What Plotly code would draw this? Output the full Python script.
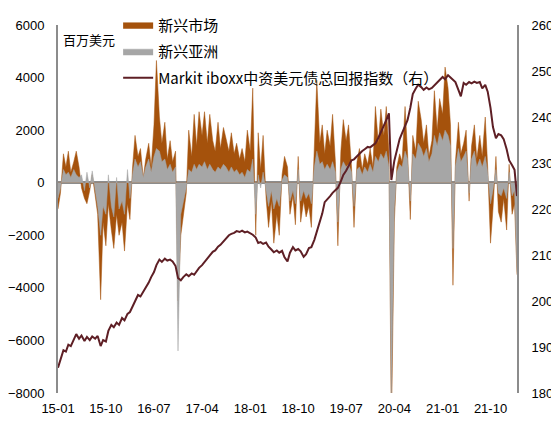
import pandas as pd
import plotly.graph_objects as go

# semi-monthly observations, 2015-01 .. 2022-03
dates = pd.date_range("2015-01-01", periods=173, freq="SMS")

# 新兴市场 fund flows, USD mn
em_flow = [
    -1000, -400, 1100, 600, 1200, 400, 800, 1200, 600, -200,
    -600, -800, -300, 300, -500, -1200, -4450, -1500, -2400, -800,
    -1800, -2500, -1200, -2000, -1500, -2600, -800, -1400, 600, 1800,
    1000, 1300, 200, 900, 1500, 600, 2200, 4650, 2500, 1500,
    2300, 900, 1600, 800, 1200, -4500, -2000, -1300, -400, 2000,
    1000, 2600, 1400, 2700, 1800, 2700, 1500, 2600, 1600, 1200,
    2300, 1300, 2100, 1700, 1200, 1900, 1100, 1500, 900, 1300,
    800, 2000, 1200, 3600, -2000, 1900, 500, 1800, -600, -1700,
    -700, -2300, -1200, -2000, 300, 1000, 600, -1200, -500, -1600,
    1000, -1500, -700, -1300, -900, -1700, 1400, 3900, 1500, 2200,
    1100, 2000, 1400, 2600, 800, -2400, 1200, 2400, 1600, 2200,
    600, -1700, 800, 1300, 500, 1100, 700, 1300, 600, 2900,
    1500, 2800, 1800, 2900, 1200, -9500, -1500, 600, 1100, 800,
    2900, 1200, -1400, 1800, 1200, 3100, 2400, 1500, 2200, 1000,
    1600, 3500, 2000, 3200, 2600, 4400, 3600, 2200, -3900, 800,
    2300, 1100, 1500, 2000, -700, 1400, 2200, 900, 1800, 1000,
    2500, 600, -2300, -1000, 1000, -1100, -1500, -600, -1800, 700,
    -1200, -800, -3500,
]

# 新兴亚洲 fund flows, USD mn
asia_flow = [
    -600, -200, 500, 300, 400, 200, 500, 300, 200, 300,
    -300, 400, -200, 450, -300, -900, -2000, -900, -1200, 300,
    -900, -1300, 200, -1000, -700, -1200, 500, -600, 300, 900,
    600, 800, 200, 600, 900, 400, 1000, 1300, 1200, 800,
    900, 500, 700, 400, 600, -6400, -1200, -800, -200, 500,
    400, 700, 500, 700, 600, 800, 500, 700, 500, 400,
    600, 500, 700, 600, 400, 600, 400, 500, 300, 400,
    200, 500, 400, 900, -1200, 300, -200, 400, -400, -900,
    -300, -1000, -600, -900, 100, 300, 200, -700, -300, -800,
    500, -700, -300, -600, -400, -800, 600, 1200, 700, 800,
    500, 700, 500, 800, 400, -1500, 500, 800, 600, 700,
    400, -900, 500, 600, 300, 600, 400, 700, 400, 1000,
    800, 1100, 900, 1200, 600, -8200, -1000, 400, 700, 600,
    1200, 900, -700, 1100, 900, 1500, 1300, 1000, 1300, 800,
    1100, 1800, 1400, 1900, 1600, 2000, 1800, 1400, -2500, 600,
    1300, 800, 1000, 1200, -400, 900, 1200, 600, 900, 600,
    1000, 400, -800, -300, 500, -400, -500, -200, -600, 400,
    -500, -300, -3400,
]

# Markit iboxx 中资美元债总回报指数 (right axis)
iboxx = [
    185.5, 187.5, 189.3, 189.0, 190.5, 190.2, 191.5, 192.8, 191.8, 192.5,
    191.3, 192.2, 191.5, 192.3, 191.8, 192.4, 190.2, 191.5, 191.2, 193.5,
    194.8, 194.3, 195.3, 194.8, 196.3, 195.8, 197.2, 197.6, 198.8, 200.0,
    201.3, 201.0, 202.0, 202.8, 204.0, 205.2, 206.3, 207.8, 209.0, 208.5,
    209.2, 208.8, 209.0, 208.6, 207.6, 205.0, 204.5, 205.2, 205.8, 205.4,
    206.0, 205.7, 206.6, 207.2, 207.8, 208.5, 209.3, 209.8, 210.7, 211.0,
    211.8, 212.2, 213.0, 213.5, 214.3, 214.6, 214.8, 215.2, 215.0, 215.3,
    214.9, 215.1, 214.7, 214.4, 213.8, 212.6, 212.8, 212.4, 212.7, 211.8,
    211.2, 210.6, 211.0, 210.5, 210.9, 209.5, 208.6, 210.5, 211.7, 211.0,
    211.3, 210.8, 209.6, 210.2, 211.5, 211.7, 213.3, 215.0, 216.8, 219.0,
    221.5, 222.0, 222.8, 223.5, 224.2, 224.6, 226.0, 227.4, 228.3, 229.5,
    230.6, 230.8, 231.5, 232.0, 232.6, 233.0, 233.5, 233.4, 234.0, 234.3,
    235.5, 236.6, 238.0, 239.3, 240.8, 226.3, 230.5, 233.0, 235.2, 236.5,
    238.2, 239.3, 242.0, 245.0, 246.2, 247.0, 246.5, 245.9, 246.4, 246.0,
    246.3, 246.8, 247.4, 248.0, 248.7, 248.2, 249.1, 248.6, 248.0, 247.6,
    245.9, 244.5, 247.4, 247.0, 247.6, 247.3, 247.7, 247.4, 247.6, 246.2,
    247.0, 245.5, 242.0, 237.8, 235.4, 236.3, 236.0, 235.2, 233.0, 230.6,
    229.5, 228.5, 222.8,
]

BROWN = "#A5520C"
GREY = "#A6A6A6"
LINE = "#5E1F25"
AXIS = "#8C8C8C"
TICK_FONT = dict(family="Liberation Sans Narrow, Arial Narrow, Liberation Sans", size=13, color="#000000")

fig = go.Figure()
fig.add_trace(go.Scatter(x=dates, y=em_flow, name="新兴市场", mode="lines", legendgroup="a",
                         fill="tozeroy", fillcolor=BROWN, line=dict(color=BROWN, width=0.5)))
fig.add_trace(go.Scatter(x=dates, y=asia_flow, name="新兴亚洲", mode="lines", legendgroup="b",
                         fill="tozeroy", fillcolor=GREY, line=dict(color=GREY, width=0.5)))
fig.add_trace(go.Scatter(x=dates, y=iboxx, name="Markit iboxx中资美元债总回报指数（右）",
                         mode="lines", legendgroup="c", line=dict(color=LINE, width=2), yaxis="y2"))

# the page body adds an 8px offset, margins account for it
fig.update_layout(
    width=559, height=432,
    margin=dict(l=50, r=50, t=17, b=47, autoexpand=False),
    plot_bgcolor="white", paper_bgcolor="white",
    showlegend=True,
    legend=dict(x=0.131, y=1.045, xanchor="left", yanchor="top",
                bgcolor="rgba(0,0,0,0)", tracegroupgap=4,
                font=dict(family="Noto Sans CJK SC", size=15, color="#000000")),
    xaxis=dict(range=["2015-01-01", "2022-03-01"], tick0="2015-01-01", dtick="M9",
               tickformat="%y-%m", showgrid=False, showline=False, ticks="",
               ticklabelstandoff=6, tickfont=TICK_FONT),
    yaxis=dict(range=[-8000, 6000], dtick=2000, showgrid=False, showline=True,
               linecolor=AXIS, linewidth=2, zeroline=True, zerolinecolor=AXIS,
               zerolinewidth=3, layer="above traces", ticks="",
               ticklabelstandoff=9, tickfont=TICK_FONT),
    yaxis2=dict(range=[180, 260], dtick=10, overlaying="y", side="right",
                showgrid=False, showline=True, linecolor=AXIS, linewidth=2,
                zeroline=False, ticks="", ticklabelstandoff=10, tickfont=TICK_FONT),
    annotations=[dict(text="百万美元", xref="paper", yref="paper", x=0.006, y=0.96,
                      xanchor="left", yanchor="middle", showarrow=False,
                      font=dict(family="Noto Sans CJK SC", size=13, color="#000000"))],
)

fig.write_html("out.html")
